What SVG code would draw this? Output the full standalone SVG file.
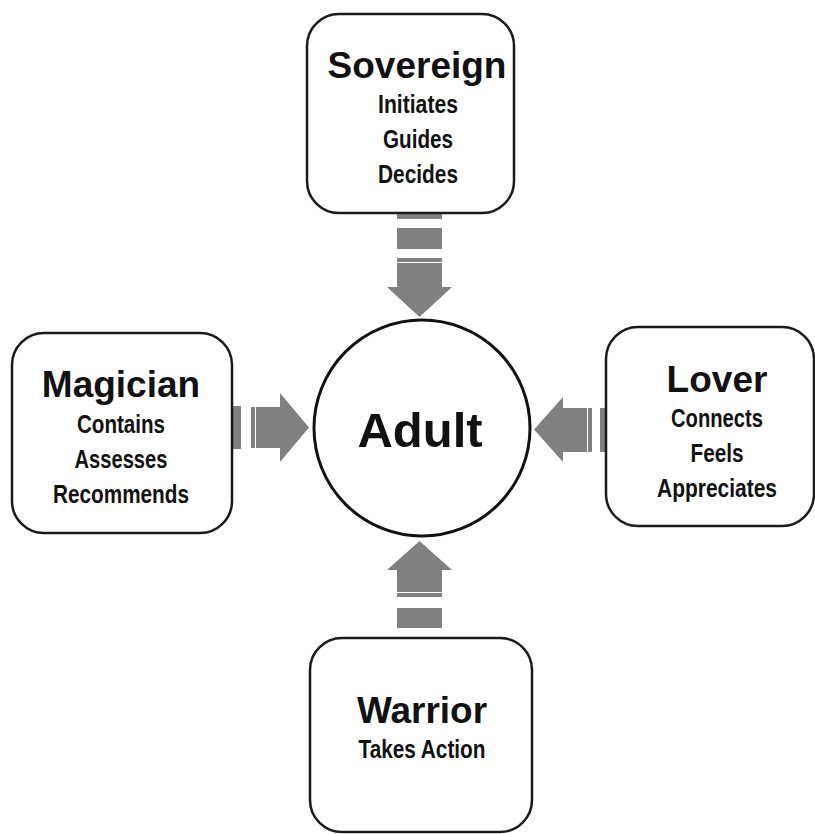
<svg xmlns="http://www.w3.org/2000/svg" width="815" height="834" viewBox="0 0 815 834">
<style>
.box{fill:#fff;stroke:#1a1a1a;stroke-width:2.5}
.t{font-family:"Liberation Sans",Arial,sans-serif;font-weight:bold;font-size:37px;fill:#111;text-anchor:middle}
.s{font-family:"Liberation Sans Narrow","Liberation Sans",Arial,sans-serif;font-weight:bold;font-size:25px;fill:#111;text-anchor:middle}
.a{fill:#808080}
</style>
<rect width="815" height="834" fill="#fff"/>
<g id="connectors">
  <rect class="a" x="397" y="213" width="45" height="6"/>
  <rect class="a" x="397" y="228" width="45" height="21"/>
  <rect class="a" x="397" y="258" width="45" height="4"/>
  <polygon class="a" points="397,263 442,263 442,287 452,287 419.5,317 387,287 397,287"/>
  <rect class="a" x="232" y="406" width="9" height="43"/>
  <rect class="a" x="251" y="407" width="4" height="41"/>
  <polygon class="a" points="256,407 280,407 280,393 309,427.5 280,462 280,448 256,448"/>
  <rect class="a" x="600" y="408" width="7" height="44"/>
  <rect class="a" x="588" y="408" width="4" height="44"/>
  <polygon class="a" points="587,408 563,408 563,397 534,429.5 563,462 563,452 587,452"/>
  <rect class="a" x="397" y="608" width="45" height="20"/>
  <rect class="a" x="397" y="593" width="45" height="4"/>
  <polygon class="a" points="397,592 442,592 442,570 452,570 419.5,541 387,570 397,570"/>
</g>
<g id="adult">
  <circle cx="422" cy="428" r="108" fill="#fff" stroke="#111" stroke-width="3"/>
  <text class="t" x="420" y="447" style="font-size:49px">Adult</text>
</g>
<g id="sovereign">
  <rect class="box" x="307" y="14" width="207" height="199" rx="32"/>
  <text class="t" x="417" y="78">Sovereign</text>
  <text class="s" x="418" y="113" textLength="80" lengthAdjust="spacingAndGlyphs">Initiates</text>
  <text class="s" x="418" y="148" textLength="70" lengthAdjust="spacingAndGlyphs">Guides</text>
  <text class="s" x="418" y="183" textLength="80" lengthAdjust="spacingAndGlyphs">Decides</text>
</g>
<g id="magician">
  <rect class="box" x="12" y="333" width="220" height="200" rx="32"/>
  <text class="t" x="121" y="397">Magician</text>
  <text class="s" x="121" y="433" textLength="88" lengthAdjust="spacingAndGlyphs">Contains</text>
  <text class="s" x="121" y="468" textLength="93" lengthAdjust="spacingAndGlyphs">Assesses</text>
  <text class="s" x="121" y="503" textLength="136" lengthAdjust="spacingAndGlyphs">Recommends</text>
</g>
<g id="lover">
  <rect class="box" x="606" y="327" width="208" height="199" rx="32"/>
  <text class="t" x="717" y="392">Lover</text>
  <text class="s" x="717" y="427" textLength="92" lengthAdjust="spacingAndGlyphs">Connects</text>
  <text class="s" x="717" y="462" textLength="53" lengthAdjust="spacingAndGlyphs">Feels</text>
  <text class="s" x="717" y="497" textLength="120" lengthAdjust="spacingAndGlyphs">Appreciates</text>
</g>
<g id="warrior">
  <rect class="box" x="310" y="638" width="222" height="194" rx="32"/>
  <text class="t" x="422" y="723">Warrior</text>
  <text class="s" x="422" y="758" textLength="127" lengthAdjust="spacingAndGlyphs">Takes Action</text>
</g>
</svg>
